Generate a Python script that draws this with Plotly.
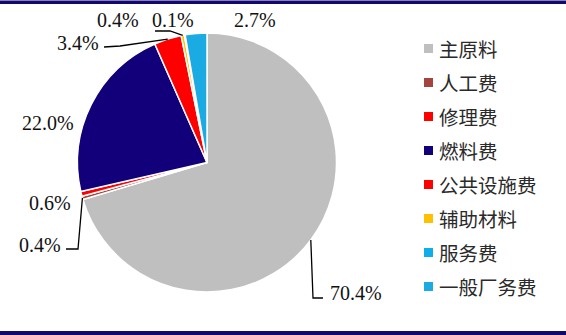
import math
import plotly.graph_objects as go

# ---- data ----
categories = ["主原料", "人工费", "修理费", "燃料费", "公共设施费", "辅助材料", "服务费", "一般厂务费"]
shares = [70.4, 0.4, 0.6, 22.0, 3.4, 0.4, 0.1, 2.7]
share_labels = ["70.4%", "0.4%", "0.6%", "22.0%", "3.4%", "0.4%", "0.1%", "2.7%"]
colors = ["#BFBFBF", "#A5433F", "#FF0000", "#12007A", "#FF0000", "#FFC000", "#0FAEEA", "#1AABE3"]

# ---- layout geometry (pixels) ----
W, H = 566, 335
CX, CY, R = 207, 162.5, 129.5

def px(x, y):
    return x / W, 1 - y / H

fig = go.Figure(go.Pie(
    labels=categories, values=shares, sort=False, direction="clockwise", rotation=0,
    marker=dict(colors=colors, line=dict(color="white", width=1.5)),
    textinfo="none", hoverinfo="label+percent", showlegend=False,
    domain=dict(x=[(CX - R) / W, (CX + R) / W], y=[1 - (CY + R) / H, 1 - (CY - R) / H]),
))

# slice mid angles -> edge points
total = sum(shares)
edge = []
cum = 0
for v in shares:
    mid = (cum + v / 2) / total * 2 * math.pi
    edge.append((CX + R * math.sin(mid), CY - R * math.cos(mid)))
    cum += v

# label placement (pixels) and leader-line elbows
label_pos = [(356, 293), (40, 245), (50, 203), (48, 123), (78, 43), (118, 20), (173, 20), (255, 20)]
leader = {
    0: [(313, 298), (323, 298)],
    1: [(78, 249), (66, 249)],
    4: [(120, 46), (104, 47)],
    5: [(170, 31), (155, 31)],
}

annotations = []
shapes = []
for i, (lx, ly) in enumerate(label_pos):
    x, y = px(lx, ly)
    annotations.append(dict(x=x, y=y, xref="paper", yref="paper", text=share_labels[i],
                            showarrow=False, xanchor="center", yanchor="middle",
                            font=dict(family="Liberation Serif", size=20, color="#111111")))
for i, pts in leader.items():
    allp = [edge[i]] + pts
    path = "M " + " L ".join(f"{px(a, b)[0]:.5f},{px(a, b)[1]:.5f}" for a, b in allp)
    shapes.append(dict(type="path", path=path, xref="paper", yref="paper",
                       line=dict(color="black", width=1.3)))

# manual legend
leg_y0, leg_dy = 48.5, 34.0
for i, name in enumerate(categories):
    yy = leg_y0 + i * leg_dy
    x0, y0 = px(424, yy - 4.5)
    x1, y1 = px(433, yy + 4.5)
    shapes.append(dict(type="rect", xref="paper", yref="paper", x0=x0, x1=x1, y0=y1, y1=y0,
                       fillcolor=colors[i], line=dict(width=0)))
    tx, ty = px(437, yy)
    annotations.append(dict(x=tx, y=ty, xref="paper", yref="paper", text=name, showarrow=False,
                            xanchor="left", yanchor="middle",
                            font=dict(family="Noto Sans CJK SC", size=19.5, color="#2a2a2a")))

# top & bottom rules
for ya, yb in [(0.5, 4), (331, 335)]:
    x0, y0 = px(0, ya)
    x1, y1 = px(W, yb)
    shapes.append(dict(type="rect", xref="paper", yref="paper", x0=x0, x1=x1, y0=y1, y1=y0,
                       fillcolor="#12086E", line=dict(width=0)))

fig.update_layout(width=W, height=H, margin=dict(l=0, r=0, t=0, b=0),
                  paper_bgcolor="white", plot_bgcolor="white",
                  annotations=annotations, shapes=shapes, showlegend=False)
fig.write_html("out.html")
